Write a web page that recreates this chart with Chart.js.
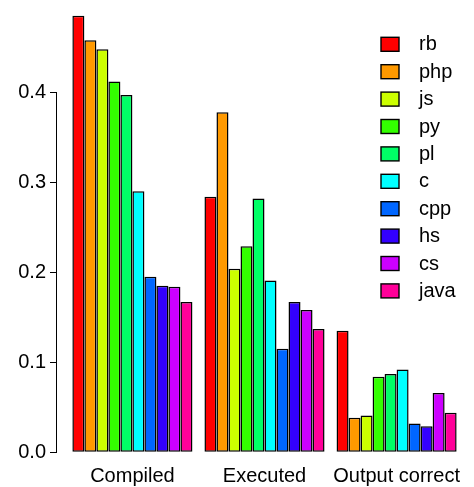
<!DOCTYPE html>
<html><head><meta charset="utf-8">
<script src="https://cdn.jsdelivr.net/npm/chart.js@4/dist/chart.umd.min.js"></script>
<style>html,body{margin:0;padding:0;background:#fff;}canvas{display:block;}</style>
</head><body>
<canvas id="c" width="474" height="487"></canvas>
<script>
// ---- data ----
const categories = ['Compiled', 'Executed', 'Output correct'];
const languages = ['rb', 'php', 'js', 'py', 'pl', 'c', 'cpp', 'hs', 'cs', 'java'];
const colors = ['#FF0000', '#FF9900', '#CCFF00', '#33FF00', '#00FF66', '#00FFFF', '#0066FF', '#3300FF', '#CC00FF', '#FF0099'];
const rb   = [0.485, 0.284, 0.135];
const php  = [0.458, 0.378, 0.0385];
const js   = [0.448, 0.204, 0.041];
const py   = [0.412, 0.229, 0.084];
const pl   = [0.397, 0.282, 0.087];
const c    = [0.290, 0.191, 0.092];
const cpp  = [0.195, 0.115, 0.032];
const hs   = [0.185, 0.167, 0.029];
const cs   = [0.184, 0.158, 0.066];
const java = [0.167, 0.137, 0.044];
const yTickValues = [0, 0.1, 0.2, 0.3, 0.4];
const yTickLabels = ['0.0', '0.1', '0.2', '0.3', '0.4'];
const yAxisRange = [-0.0041, 0.5026];

const seriesValues = [rb, php, js, py, pl, c, cpp, hs, cs, java];

// R barplot(beside=TRUE) geometry in bar units: each group = nLang bars + 1 space
const nLang = languages.length;
const groupCenter = i => 1 + i * (nLang + 1) + nLang / 2;
const xLo = 1, xHi = categories.length * (nLang + 1);
const xPad = 0.04 * (xHi - xLo);

const FONT = 'Liberation Sans, Arial, Helvetica, sans-serif';

const datasets = languages.map((lang, k) => ({
  label: lang,
  data: seriesValues[k].map((v, i) => ({ x: groupCenter(i), y: v })),
  backgroundColor: colors[k],
  borderColor: '#000',
  borderWidth: 1.5,
  borderSkipped: false,
  categoryPercentage: nLang / (nLang + 1),
  barPercentage: 1
}));

const rStyle = {
  id: 'rStyle',
  afterDraw(chart) {
    const ctx = chart.ctx;
    const y = chart.scales.y;
    const x0 = chart.chartArea.left;
    ctx.save();
    ctx.strokeStyle = '#000';
    ctx.lineWidth = 1;
    ctx.beginPath();
    ctx.moveTo(Math.round(x0) - 0.5, y.getPixelForValue(yTickValues[0]));
    ctx.lineTo(Math.round(x0) - 0.5, y.getPixelForValue(yTickValues[yTickValues.length - 1]));
    ctx.stroke();
    // legend
    const lx = 381, ly = 37.3, rowH = 27.4;
    ctx.font = '20px ' + FONT;
    ctx.textBaseline = 'middle';
    ctx.textAlign = 'left';
    chart.data.datasets.forEach((ds, i) => {
      const top = ly + i * rowH;
      ctx.fillStyle = ds.backgroundColor;
      ctx.fillRect(lx, top, 18, 14);
      ctx.strokeStyle = '#000';
      ctx.lineWidth = 1.4;
      ctx.strokeRect(lx, top, 18, 14);
      ctx.fillStyle = '#000';
      ctx.fillText(ds.label, 419, top + 7.5);
    });
    ctx.restore();
  }
};

new Chart(document.getElementById('c'), {
  type: 'bar',
  data: { datasets },
  options: {
    responsive: false,
    devicePixelRatio: 1,
    animation: false,
    layout: { autoPadding: false, padding: { left: 0, right: 2, top: 0, bottom: 0 } },
    plugins: { legend: { display: false }, tooltip: { enabled: false } },
    scales: {
      x: {
        type: 'linear',
        offset: false,
        min: xLo - xPad,
        max: xHi + xPad,
        grid: { display: false, drawTicks: false },
        border: { display: false },
        afterBuildTicks: s => { s.ticks = categories.map((_, i) => ({ value: groupCenter(i) })); },
        afterFit: s => { s.height = 31; s.paddingLeft = 0; s.paddingRight = 0; },
        ticks: {
          autoSkip: false,
          maxRotation: 0,
          padding: 14.2,
          color: '#000',
          font: { family: FONT, size: 20, lineHeight: 0.6 },
          callback: (v) => categories[categories.findIndex((_, i) => Math.abs(groupCenter(i) - v) < 1e-6)]
        }
      },
      y: {
        min: yAxisRange[0],
        max: yAxisRange[1],
        grid: { display: true, drawOnChartArea: false, drawTicks: true, tickLength: 7, color: '#000', lineWidth: 1 },
        border: { display: false },
        afterBuildTicks: s => { s.ticks = yTickValues.map(v => ({ value: v })); },
        afterFit: s => { s.width = 57; s.paddingTop = 0; s.paddingBottom = 0; },
        ticks: {
          padding: 4,
          color: '#000',
          font: { family: FONT, size: 20 },
          callback: (v) => yTickLabels[yTickValues.findIndex(t => Math.abs(t - v) < 1e-9)]
        }
      }
    }
  },
  plugins: [rStyle]
});
</script>
</body></html>
